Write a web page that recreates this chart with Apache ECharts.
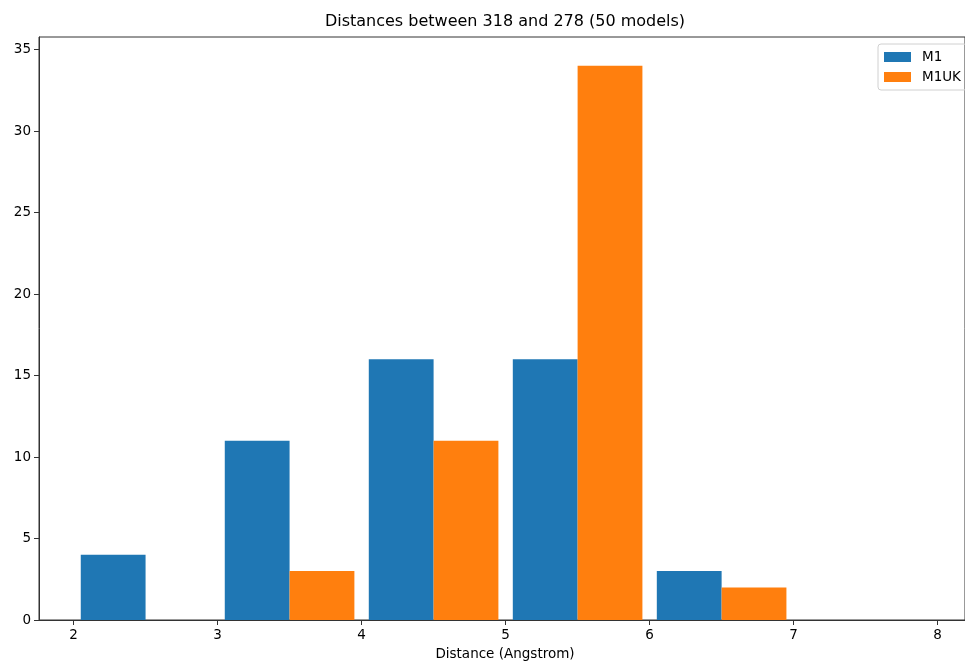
<!DOCTYPE html>
<html>
<head>
<meta charset="utf-8">
<script src="https://cdn.jsdelivr.net/npm/echarts@6/dist/echarts.min.js"></script>
<style>
  html, body { margin: 0; padding: 0; background: #fff; }
  #chart-container { width: 965px; height: 664px; }
</style>
</head>
<body>
<div id="chart-container"></div>
<script>
// histogram bins (Angstrom), width 1
let binStarts = [2, 3, 4, 5, 6]
let m1Counts = [4, 11, 16, 16, 3]
let m1ukCounts = [0, 3, 11, 34, 2]
let xTicks = [2, 3, 4, 5, 6, 7, 8]
let yTicks = [0, 5, 10, 15, 20, 25, 30, 35]
let seriesNames = ['M1', 'M1UK']

// rwidth 0.9 -> each bin holds two bars of 0.45
function makeBars(counts, idx) {
    let out = []
    for (let i = 0; i < binStarts.length; i++) {
        let s = binStarts[i] + 0.05 + idx * 0.45
        out.push([s, s + 0.45, counts[i]])
    }
    return out
}

function renderBar(params, api) {
    let p1 = api.coord([api.value(0), api.value(2)])
    let p2 = api.coord([api.value(1), 0])
    return {
        type: 'rect',
        shape: { x: p1[0], y: p1[1], width: p2[0] - p1[0], height: p2[1] - p1[1] },
        style: { fill: api.visual('color'), lineWidth: 0 }
    }
}

let font = 'DejaVu Sans'
let dom = document.getElementById('chart-container')
let myChart = echarts.init(dom, null, { renderer: 'canvas' })

let option = {
    animation: false,
    textStyle: { fontFamily: font },
    graphic: [
        {
            type: 'text', x: 505, y: 14,
            style: { text: 'Distances between 318 and 278 (50 models)', font: '16px "DejaVu Sans"', fill: '#000', textAlign: 'center', textVerticalAlign: 'top' }
        },
        {
            type: 'text', x: 505, y: 647,
            style: { text: 'Distance (Angstrom)', font: '13.5px "DejaVu Sans"', fill: '#000', textAlign: 'center', textVerticalAlign: 'top' }
        }
    ],
    legend: {
        orient: 'vertical',
        left: 878,
        top: 44,
        data: seriesNames,
        icon: 'rect',
        itemWidth: 27,
        itemHeight: 10,
        itemGap: 6,
        padding: [6, 6, 6, 6],
        borderColor: '#d0d0d0',
        borderWidth: 1,
        borderRadius: 3,
        textStyle: { fontFamily: font, fontSize: 13.5, color: '#000', padding: [0, 0, 0, 6] }
    },
    grid: {
        left: 39, right: 0, top: 37, bottom: 44,
        show: true, borderColor: '#333', borderWidth: 1, backgroundColor: 'transparent'
    },
    xAxis: {
        type: 'value',
        min: 1.76,
        max: 8.19,
        splitLine: { show: false },
        axisLine: { show: true, lineStyle: { color: '#333' } },
        axisTick: { show: true, length: 5, customValues: xTicks, lineStyle: { color: '#333' } },
        axisLabel: { customValues: xTicks, color: '#000', fontSize: 13.5, fontFamily: font, margin: 8 }
    },
    yAxis: {
        type: 'value',
        min: 0,
        max: 35.77,
        splitLine: { show: false },
        axisLine: { show: true, lineStyle: { color: '#333' } },
        axisTick: { show: true, length: 5, customValues: yTicks, lineStyle: { color: '#333' } },
        axisLabel: { customValues: yTicks, color: '#000', fontSize: 13.5, fontFamily: font, margin: 8 }
    },
    series: [
        {
            name: seriesNames[0],
            type: 'custom',
            renderItem: renderBar,
            itemStyle: { color: '#1f77b4' },
            encode: { x: [0, 1], y: 2 },
            data: makeBars(m1Counts, 0)
        },
        {
            name: seriesNames[1],
            type: 'custom',
            renderItem: renderBar,
            itemStyle: { color: '#ff7f0e' },
            encode: { x: [0, 1], y: 2 },
            data: makeBars(m1ukCounts, 1)
        }
    ]
}
myChart.setOption(option)
window.addEventListener('resize', myChart.resize)
</script>
</body>
</html>
